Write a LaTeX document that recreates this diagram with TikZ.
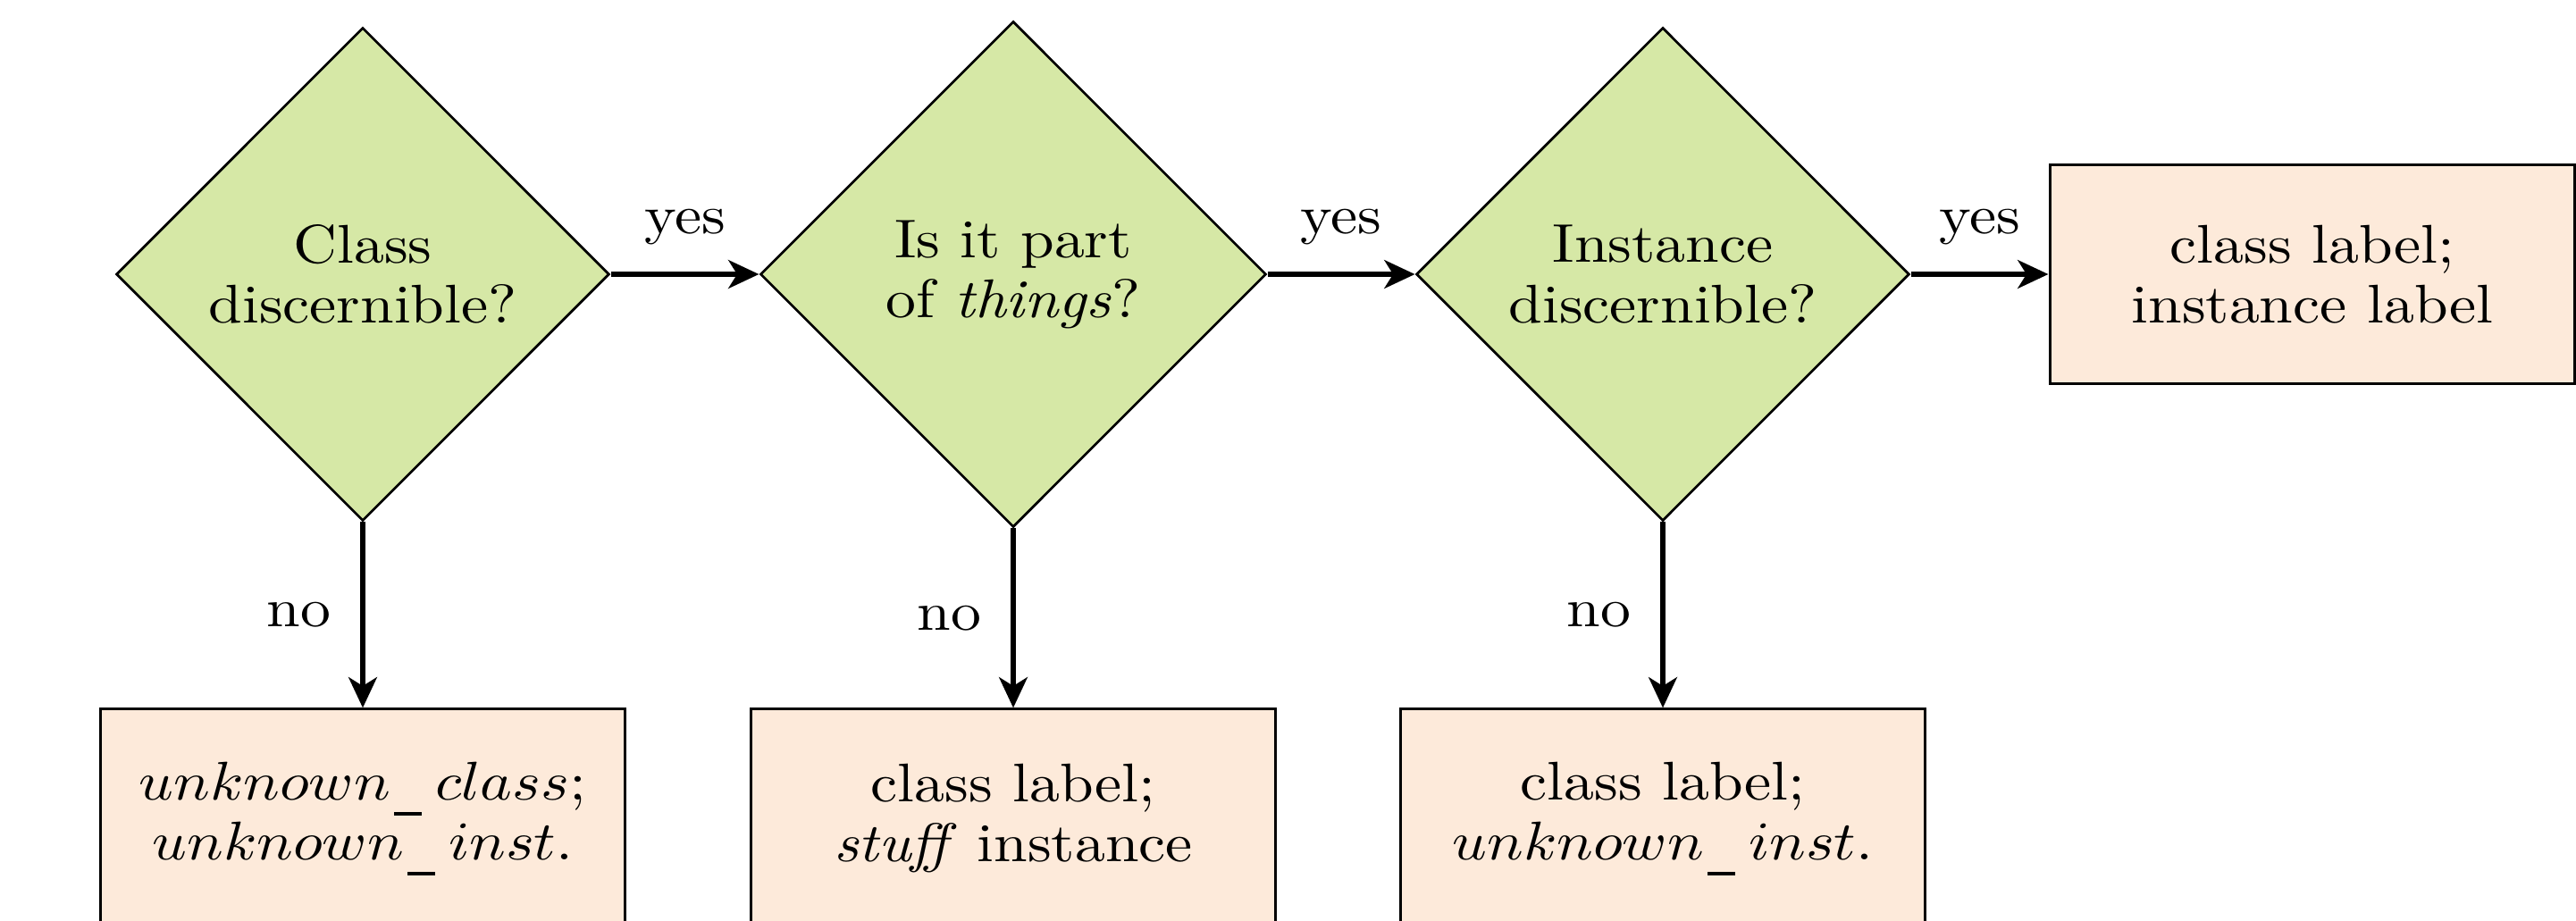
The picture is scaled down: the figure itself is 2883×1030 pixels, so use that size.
\documentclass[tikz,border=0pt]{standalone}
\usetikzlibrary{shapes.geometric,arrows.meta}

\definecolor{qgreen}{RGB}{214,232,166}
\definecolor{qpeach}{RGB}{253,234,218}

% short low bar used in the identifiers, with a little space after it
\newcommand{\lowbar}{\kern0.6pt\rule[-2.8pt]{4.6pt}{0.6pt}\kern2.2pt}

\begin{document}
\begin{tikzpicture}[x=0.1639pt, y=-0.1639pt,
  every node/.style={xscale=1.11, transform shape, font=\fontsize{10}{11}\selectfont},
  question/.style={diamond, draw, fill=qgreen, align=center, inner sep=0pt, line width=0.45pt},
  outcome/.style={rectangle, draw, fill=qpeach, align=center,
                  minimum width=86.8pt, minimum height=40.2pt, line width=0.5pt},
  flow/.style={-{Stealth[length=5.6pt,width=5.2pt,inset=1.6pt]}, line width=0.9pt},
]
\useasboundingbox (0,0) rectangle (2883,1030);

% decisions
\node[question, minimum width=81.5pt, minimum height=90.5pt] (q1) at (406,307) {Class\\discernible?};
\node[question, minimum width=83.6pt, minimum height=92.8pt] (q2) at (1134,307) {Is it part\\of \textit{things}?};
\node[question, minimum width=81.5pt, minimum height=90.5pt] (q3) at (1861,307) {Instance\\discernible?};

% outcomes
\node[outcome] (r0) at (2588,307) {class label;\\instance label};
\node[outcome] (r1) at (406,916.5) {$unknown$\lowbar$class$;\\$unknown$\lowbar$inst$.};
\node[outcome] (r2) at (1134,916.5) {class label;\\\textit{stuff} instance};
\node[outcome] (r3) at (1861,916.5) {class label;\\$unknown$\lowbar$inst$.};

% yes branches
\draw[flow] (q1.east) -- node[above=1.6pt] {yes} (q2.west);
\draw[flow] (q2.east) -- node[above=1.6pt] {yes} (q3.west);
\draw[flow] (q3.east) -- node[above=1.6pt] {yes} (r0.west);

% no branches
\draw[flow] (q1.south) -- node[left=1.5pt] {no} (r1.north);
\draw[flow] (q2.south) -- node[left=1.5pt] {no} (r2.north);
\draw[flow] (q3.south) -- node[left=1.5pt] {no} (r3.north);
\end{tikzpicture}
\end{document}
